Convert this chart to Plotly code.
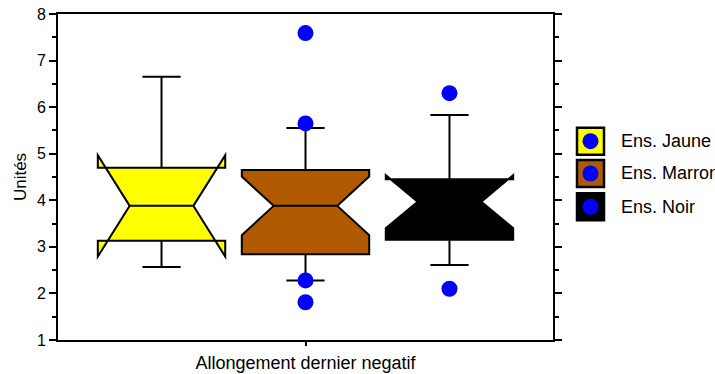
import plotly.graph_objects as go

# box statistics
series = ['Ens. Jaune', 'Ens. Marron', 'Ens. Noir']
colors = ['#FFFF00', '#B05A00', '#000000']
q1 = [3.13, 2.84, 3.15]
median = [3.88, 3.88, 3.97]
q3 = [4.70, 4.65, 4.45]
lower = [2.57, 2.28, 2.61]
upper = [6.65, 5.55, 5.83]
notch = [1.09, 0.63, 0.57]
outliers = [[], [7.59, 5.65, 2.28, 1.81], [6.30, 2.10]]

FONT = 'Liberation Sans, Arial, sans-serif'
W, H = 715, 374
L, R, T, B = 58, 162, 14, 34

fig = go.Figure()
for i, name in enumerate(series):
    fig.add_trace(go.Box(
        x=[i], q1=[q1[i]], median=[median[i]], q3=[q3[i]],
        lowerfence=[lower[i]], upperfence=[upper[i]], notchspan=[notch[i]],
        notched=True, notchwidth=0.25, whiskerwidth=0.3, width=0.885,
        fillcolor=colors[i], line=dict(color='black', width=2),
        boxpoints=False, name=name, showlegend=False, hoverinfo='skip'))
    if outliers[i]:
        fig.add_trace(go.Scatter(
            x=[i] * len(outliers[i]), y=outliers[i], mode='markers',
            marker=dict(color='#0000FF', size=16, line=dict(width=0)),
            showlegend=False, hoverinfo='skip'))


def px2paper(px, py):
    return (px - L) / (W - L - R), (H - B - py) / (H - T - B)


# hand-drawn legend: square with blue dot, then the label
shapes, annotations = [], []
tops = [127.7, 160.0, 193.3]
for i, name in enumerate(series):
    x0, y1 = px2paper(577, tops[i])
    x1, y0 = px2paper(604, tops[i] + 27)
    shapes.append(dict(type='rect', xref='paper', yref='paper', x0=x0, x1=x1, y0=y0, y1=y1,
                       fillcolor=colors[i], line=dict(color='black', width=2.5)))
    cx, cy = 590.5, tops[i] + 13.5
    a0, b1 = px2paper(cx - 8, cy - 8)
    a1, b0 = px2paper(cx + 8, cy + 8)
    shapes.append(dict(type='circle', xref='paper', yref='paper', x0=a0, x1=a1, y0=b0, y1=b1,
                       fillcolor='#0000FF', line=dict(width=0)))
    tx, ty = px2paper(619, cy)
    annotations.append(dict(xref='paper', yref='paper', x=tx, y=ty, text=name, showarrow=False,
                            xanchor='left', yanchor='middle', font=dict(size=18, color='black')))

fig.update_layout(
    width=W, height=H, margin=dict(l=L, r=R, t=T, b=B, autoexpand=False),
    paper_bgcolor='white', plot_bgcolor='white',
    font=dict(family=FONT, color='black'),
    boxmode='overlay', showlegend=False,
    shapes=shapes, annotations=annotations,
    xaxis=dict(range=[-0.719, 2.719], tickvals=[1], ticktext=[''], ticks='outside', ticklen=4,
               tickwidth=1.5, tickcolor='black', showline=True, linecolor='black', linewidth=2,
               mirror=True, showgrid=False, zeroline=False, automargin=False,
               title=dict(text='Allongement dernier negatif', font=dict(size=18), standoff=9)),
    yaxis=dict(range=[1, 8], dtick=1, ticks='outside', ticklen=7, tickwidth=1.5, tickcolor='black',
               showline=True, linecolor='black', linewidth=2, mirror='ticks', showgrid=False,
               zeroline=False, tickfont=dict(size=16), automargin=False,
               minor=dict(dtick=0.5, ticks='outside', ticklen=4, tickwidth=1.5, tickcolor='black'),
               title=dict(text='Unités', font=dict(size=17), standoff=6)),
)

# the page's default body margin would push the figure 8px right and down
fig.write_html('out.html', config={'displayModeBar': False},
               post_script="document.body.style.margin = '0';")
